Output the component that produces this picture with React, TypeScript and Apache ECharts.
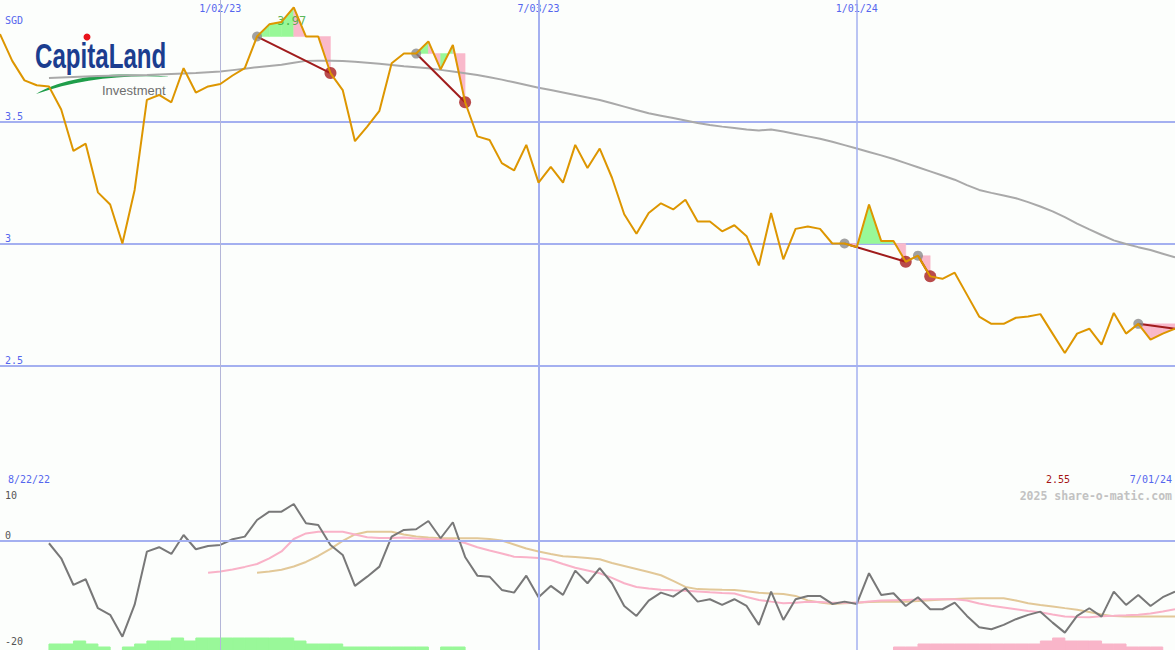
import React, { useEffect, useRef } from 'react';
import * as echarts from 'echarts';

// ---------- data ----------
const weekCount = 97;
const pad2 = (n: number) => String(n).padStart(2, '0');
const dates: string[] = Array.from({ length: weekCount }, (_, i) => {
  const d = new Date(Date.UTC(2022, 7, 29 + 7 * i));
  return `${d.getUTCMonth() + 1}/${pad2(d.getUTCDate())}/${pad2(d.getUTCFullYear() % 100)}`;
});
const dateTicks = ['1/02/23', '7/03/23', '1/01/24'];
const rangeStartLabel = '8/22/22';
const priceTicks = [2.5, 3, 3.5];
const lowerTicksBelow = [0, -20];
const lowerTicksAbove = [10];

const price = [
  3.86, 3.75, 3.67, 3.65, 3.645, 3.55, 3.38, 3.41, 3.21, 3.16,
  3.0, 3.22, 3.59, 3.61, 3.58, 3.72, 3.62, 3.645, 3.655, 3.69,
  3.72, 3.85, 3.90, 3.91, 3.97, 3.85, 3.85, 3.70, 3.63, 3.42,
  3.48, 3.545, 3.74, 3.78, 3.78, 3.83, 3.715, 3.815, 3.58, 3.44,
  3.425, 3.33, 3.30, 3.405, 3.25, 3.315, 3.25, 3.405, 3.31, 3.39,
  3.27, 3.12, 3.04, 3.125, 3.165, 3.14, 3.18, 3.09, 3.09, 3.05,
  3.075, 3.03, 2.91, 3.125, 2.935, 3.06, 3.07, 3.06, 3.0, 3.0,
  2.985, 3.16, 3.01, 3.01, 2.925, 2.95, 2.865, 2.855, 2.88, 2.79,
  2.70, 2.67, 2.67, 2.695, 2.70, 2.71, 2.63, 2.55, 2.63, 2.65,
  2.585, 2.715, 2.63, 2.67, 2.605, 2.63, 2.65,
];

const maStart = 4;
const maValues = [
  3.68, 3.682, 3.684, 3.686, 3.688, 3.689, 3.69, 3.691, 3.692, 3.694,
  3.696, 3.698, 3.70, 3.703, 3.706, 3.712, 3.718, 3.724, 3.729, 3.734,
  3.742, 3.75, 3.751, 3.751, 3.749, 3.746, 3.742, 3.738, 3.733, 3.728,
  3.724, 3.72, 3.713, 3.706, 3.699, 3.692, 3.683, 3.673, 3.662, 3.651,
  3.64, 3.63, 3.62, 3.61, 3.60, 3.589, 3.576, 3.562, 3.548, 3.535,
  3.525, 3.515, 3.505, 3.495, 3.487, 3.48, 3.474, 3.468, 3.464, 3.468,
  3.46, 3.45, 3.44, 3.43, 3.418, 3.404, 3.39, 3.376, 3.362, 3.347,
  3.33, 3.313, 3.296, 3.279, 3.262, 3.24, 3.22, 3.208, 3.197, 3.186,
  3.17, 3.152, 3.132, 3.108, 3.082, 3.058, 3.035, 3.013, 2.998, 2.985,
  2.973, 2.958, 2.943,
];

const momStart = 4;
const momValues = [
  -0.56, -3.38, -8.39, -7.32, -12.76, -14.0, -18.1, -12.1, -2.14, -1.31,
  -2.57, 0.99, -1.69, -1.07, -0.88, 0.19, 0.68, 3.81, 5.37, 5.37,
  6.81, 3.19, 2.87, -0.88, -2.76, -8.57, -6.83, -4.95, 0.68, 1.93,
  2.06, 3.62, 0.38, 3.38, -3.13, -6.64, -6.83, -9.32, -9.83, -6.64,
  -10.69, -8.57, -10.26, -5.7, -8.07, -5.25, -8.07, -12.33, -14.2, -11.33,
  -9.83, -10.58, -9.0, -11.52, -11.07, -12.14, -11.07, -12.33, -15.89, -9.64,
  -14.95, -11.07, -10.45, -10.45, -11.95, -11.52, -11.95, -6.19, -10.26, -9.94,
  -12.33, -10.69, -12.95, -12.95, -11.71, -14.2, -16.32, -16.7, -15.89, -14.82,
  -14.0, -13.4, -15.46, -17.34, -14.2, -12.76, -14.33, -9.64, -12.14, -10.26,
  -12.33, -10.69, -9.64,
];

const pinkStart = 17;
const pinkValues = [
  -6.08, -5.85, -5.48, -5.0, -4.45, -3.41, -2.1, 0.24, 1.28, 1.61,
  1.61, 1.61, 1.09, 0.56, 0.43, 0.43, 0.53, 0.34, 0.24, 0.15,
  0.06, -0.51, -1.31, -1.91, -2.48, -3.08, -3.19, -3.32, -3.7, -4.45,
  -5.16, -5.67, -6.19, -7.07, -8.07, -8.76, -9.04, -9.27, -9.38, -9.46,
  -9.61, -9.76, -9.89, -9.98, -10.64, -11.2, -11.52, -11.82, -11.71, -11.52,
  -11.61, -11.71, -11.71, -11.71, -11.48, -11.33, -11.26, -11.2, -11.14, -11.07,
  -11.07, -11.07, -11.29, -11.86, -12.29, -12.61, -12.93, -13.26, -13.53, -13.92,
  -14.3, -14.39, -14.45, -14.26, -14.17, -14.07, -13.96, -13.73, -13.36, -12.95,
];

const tanStart = 21;
const tanValues = [
  -6.08, -5.85, -5.53, -4.92, -4.07, -2.95, -1.63, -0.13, 1.09, 1.61,
  1.61, 1.61, 1.09, 0.71, 0.53, 0.39, 0.38, 0.38, 0.38, 0.24,
  -0.04, -0.79, -1.54, -2.1, -2.57, -2.98, -3.13, -3.32, -3.56, -4.26,
  -4.82, -5.38, -5.95, -6.57, -7.64, -8.76, -9.17, -9.23, -9.29, -9.32,
  -9.57, -9.85, -9.98, -10.08, -10.45, -11.29, -11.67, -11.95, -11.82, -11.71,
  -11.61, -11.52, -11.52, -11.52, -11.39, -11.24, -11.12, -11.01, -10.92, -10.88,
  -10.88, -10.88, -11.29, -11.82, -12.14, -12.42, -12.74, -13.04, -13.45, -13.92,
  -14.24, -14.3, -14.33, -14.33, -14.33, -14.33,
];

const upBarStart = 4;
const upBars = [2, 2, 3, 2, 1, 0, 1, 2, 3, 3, 4, 3, 4, 4, 4, 4, 4, 4, 4, 4, 3, 2, 2, 2, 1, 1, 1, 1, 1, 1, 1, 0, 1, 1];
const downBarStart = 73;
const downBars = [1, 1, 2, 2, 2, 2, 2, 2, 2, 2, 2, 2, 3, 4, 3, 3, 3, 2, 2, 1, 1, 1];

const signalStart = [21, 34, 69, 75, 93];
const signalEnd = [27, 38, 74, 76, 96];
const signalClosed = [true, true, true, true, false];

const highIndex = 24;

// ---------- helpers ----------
const pad = (start: number, vals: number[]) =>
  dates.map((_, i) => (i >= start && i - start < vals.length ? vals[i - start] : null));

const MONO = '"DejaVu Sans Mono", monospace';
const BLUE = '#5566ee';
const GRID_BLUE = '#a4b0f0';
const UP_FILL = '#99f899';
const DOWN_FILL = '#f9b5c9';

echarts.graphic.registerShape(
  'logo',
  echarts.graphic.extendPath('M36,94 C62,79 104,70 170,77 C122,74 76,80 36,94 Z', {})
);

function buildOption() {
  const fillData: number[][] = [];
  signalStart.forEach((s, i) => {
    for (let k = s; k < signalEnd[i]; k++) fillData.push([k, price[s]]);
  });
  const lineData = signalStart.map((s, i) => [s, price[s], signalEnd[i], price[signalEnd[i]]]);
  const greyDots = signalStart.map((s) => [s, price[s]]);
  const redDots = signalEnd.filter((_, i) => signalClosed[i]).map((e) => [e, price[e]]);

  const barData: number[][] = [];
  upBars.forEach((v, i) => v > 0 && barData.push([upBarStart + i, v, 1]));
  downBars.forEach((v, i) => v > 0 && barData.push([downBarStart + i, v, 0]));

  const vLineStyles = [
    { color: '#b4b6d8', width: 1 },
    { color: GRID_BLUE, width: 2 },
    { color: GRID_BLUE, width: 1.5 },
  ];
  const vLines = dateTicks.map((d, i) => ({ xAxis: d, lineStyle: { ...vLineStyles[i], type: 'solid' } }));
  const tickIdx = dateTicks.map((d) => dates.indexOf(d));
  const low = Math.min(...price);

  return {
    animation: false,
    backgroundColor: '#fcfefc',
    grid: [
      { left: 0, right: 0, top: 0, height: 487 },
      { left: 0, right: 0, top: 487, height: 163 },
    ],
    xAxis: [
      {
        type: 'category', gridIndex: 0, data: dates, boundaryGap: false, position: 'top',
        axisLine: { show: false }, axisTick: { show: false }, splitLine: { show: false },
        axisLabel: {
          inside: true, interval: (i: number) => tickIdx.includes(i),
          color: BLUE, fontFamily: MONO, fontSize: 10, margin: 3,
        },
      },
      {
        type: 'category', gridIndex: 1, data: dates, boundaryGap: false, position: 'top',
        axisLine: { show: true, lineStyle: { color: '#6f80ee', width: 2 } },
        axisTick: { show: false }, axisLabel: { show: false }, splitLine: { show: false },
      },
    ],
    yAxis: [
      {
        type: 'value', gridIndex: 0, position: 'left', min: 2, max: 4, interval: 0.5,
        axisLine: { show: false }, axisTick: { show: false },
        axisLabel: {
          inside: true, customValues: priceTicks, verticalAlign: 'bottom', margin: 5,
          color: BLUE, fontFamily: MONO, fontSize: 10,
        },
        splitLine: { show: true, showMinLine: false, showMaxLine: false, lineStyle: { color: GRID_BLUE, width: 2 } },
      },
      {
        type: 'value', gridIndex: 1, position: 'left', offset: 0, min: -20.6, max: 10,
        axisLine: { show: false }, axisTick: { show: false }, splitLine: { show: false },
        axisLabel: {
          inside: true, customValues: lowerTicksBelow, verticalAlign: 'bottom', margin: 5,
          color: '#555555', fontFamily: MONO, fontSize: 10,
        },
      },
      {
        type: 'value', gridIndex: 1, position: 'left', offset: 0, min: -20.6, max: 10,
        axisLine: { show: false }, axisTick: { show: false }, splitLine: { show: false },
        axisLabel: {
          inside: true, customValues: lowerTicksAbove, verticalAlign: 'top', margin: 5, padding: [3, 0, 0, 0],
          color: '#555555', fontFamily: MONO, fontSize: 10,
        },
      },
      { type: 'value', gridIndex: 1, position: 'left', offset: 0, min: 0, max: 163 / 3, show: false },
    ],
    graphic: [
      { type: 'logo', x: 0, y: 0, z: 0, style: { fill: '#1f9e4a' } },
      {
        type: 'text', x: 35, y: 55, scaleX: 0.67, z: 0,
        style: { text: 'CapitaLand', font: 'bold 36px "Liberation Sans"', fill: '#1b3d8f', textVerticalAlign: 'middle' },
      },
      { type: 'circle', shape: { cx: 87, cy: 37, r: 3.5 }, z: 0, style: { fill: '#e8141c' } },
      {
        type: 'text', x: 102, y: 90, z: 0,
        style: { text: 'Investment', font: '13px "Liberation Sans"', fill: '#6e6e6e', textVerticalAlign: 'middle' },
      },
      { type: 'text', x: 5, y: 20, z: 10, style: { text: 'SGD', font: `10px ${MONO}`, fill: BLUE, textVerticalAlign: 'middle' } },
      { type: 'text', x: 8, y: 479, z: 10, style: { text: rangeStartLabel, font: `10px ${MONO}`, fill: BLUE, textVerticalAlign: 'middle' } },
      { type: 'text', x: 1046, y: 479, z: 10, style: { text: low.toFixed(2), font: `10px ${MONO}`, fill: '#a51515', textVerticalAlign: 'middle' } },
      {
        type: 'text', x: 1172, y: 479, z: 10,
        style: { text: dates[dates.length - 1], font: `10px ${MONO}`, fill: BLUE, textAlign: 'right', textVerticalAlign: 'middle' },
      },
      {
        type: 'text', x: 1172, y: 496, z: 10,
        style: { text: '2025 share-o-matic.com', font: `bold 11.5px ${MONO}`, fill: '#c2c2c2', textAlign: 'right', textVerticalAlign: 'middle' },
      },
    ],
    series: [
      {
        type: 'custom', xAxisIndex: 0, yAxisIndex: 0, z: 2, silent: true, data: fillData,
        renderItem: (_p: any, api: any) => {
          const k = api.value(0);
          const L = api.value(1);
          const p0 = price[k];
          const p1 = price[k + 1];
          const col = p1 > L ? '#98f898' : '#f9b9cb';
          return {
            type: 'polygon',
            shape: { points: [api.coord([k, L]), api.coord([k, p0]), api.coord([k + 1, p1]), api.coord([k + 1, L])] },
            style: { fill: col, stroke: col, lineWidth: 0.5 },
          };
        },
      },
      {
        type: 'line', xAxisIndex: 0, yAxisIndex: 0, z: 3, data: pad(maStart, maValues), symbol: 'none',
        lineStyle: { color: '#a9a9a9', width: 2 },
        markLine: { symbol: ['none', 'none'], silent: true, label: { show: false }, data: vLines },
      },
      {
        type: 'scatter', xAxisIndex: 0, yAxisIndex: 0, z: 4, symbolSize: 0, silent: true,
        data: [[highIndex, price[highIndex]]],
        label: {
          show: true, position: 'bottom', distance: 8, offset: [-2, 0],
          formatter: (p: any) => p.value[1].toFixed(2), color: '#2fa52f', fontFamily: MONO, fontSize: 12,
        },
      },
      {
        type: 'custom', xAxisIndex: 0, yAxisIndex: 0, z: 4, silent: true, data: lineData,
        encode: { x: [0, 2], y: [1, 3] },
        renderItem: (_p: any, api: any) => {
          const a = api.coord([api.value(0), api.value(1)]);
          const b = api.coord([api.value(2), api.value(3)]);
          return { type: 'line', shape: { x1: a[0], y1: a[1], x2: b[0], y2: b[1] }, style: { stroke: '#a01c1c', lineWidth: 2 } };
        },
      },
      {
        type: 'scatter', xAxisIndex: 0, yAxisIndex: 0, z: 5, symbolSize: 10, silent: true,
        data: greyDots, itemStyle: { color: '#8a8a8a' },
      },
      {
        type: 'scatter', xAxisIndex: 0, yAxisIndex: 0, z: 5, symbolSize: 12, silent: true,
        data: redDots, itemStyle: { color: '#a81e1e' },
      },
      {
        type: 'line', xAxisIndex: 0, yAxisIndex: 0, z: 6, data: price, symbol: 'none',
        lineStyle: { color: '#dd9600', width: 2 },
      },
      // lower panel
      {
        type: 'custom', xAxisIndex: 1, yAxisIndex: 3, z: 1, silent: true, data: barData,
        renderItem: (_p: any, api: any) => {
          const k = api.value(0);
          const a = api.coord([k, 0]);
          const b = api.coord([k + 1, api.value(1)]);
          const col = api.value(2) === 1 ? UP_FILL : DOWN_FILL;
          return {
            type: 'rect',
            shape: { x: a[0], y: b[1], width: b[0] - a[0], height: a[1] - b[1] },
            style: { fill: col, stroke: col, lineWidth: 1 },
          };
        },
      },
      {
        type: 'line', xAxisIndex: 1, yAxisIndex: 1, z: 2, data: pad(tanStart, tanValues), symbol: 'none',
        lineStyle: { color: '#e2c898', width: 2 },
        markLine: {
          symbol: ['none', 'none'], silent: true, label: { show: false },
          data: [{ yAxis: 0, lineStyle: { color: GRID_BLUE, width: 2, type: 'solid' } }, ...vLines],
        },
      },
      {
        type: 'line', xAxisIndex: 1, yAxisIndex: 1, z: 3, data: pad(pinkStart, pinkValues), symbol: 'none',
        lineStyle: { color: '#f9b2c8', width: 2 },
      },
      {
        type: 'line', xAxisIndex: 1, yAxisIndex: 1, z: 4, data: pad(momStart, momValues), symbol: 'none',
        lineStyle: { color: '#787878', width: 2 },
      },
    ],
  };
}

export default function App() {
  const ref = useRef<HTMLDivElement>(null);
  useEffect(() => {
    const chart = echarts.init(ref.current!, null, { renderer: 'svg' });
    chart.setOption(buildOption() as any);
    return () => chart.dispose();
  }, []);
  return <div ref={ref} style={{ position: 'fixed', left: 0, top: 0, width: 1175, height: 650 }} />;
}
